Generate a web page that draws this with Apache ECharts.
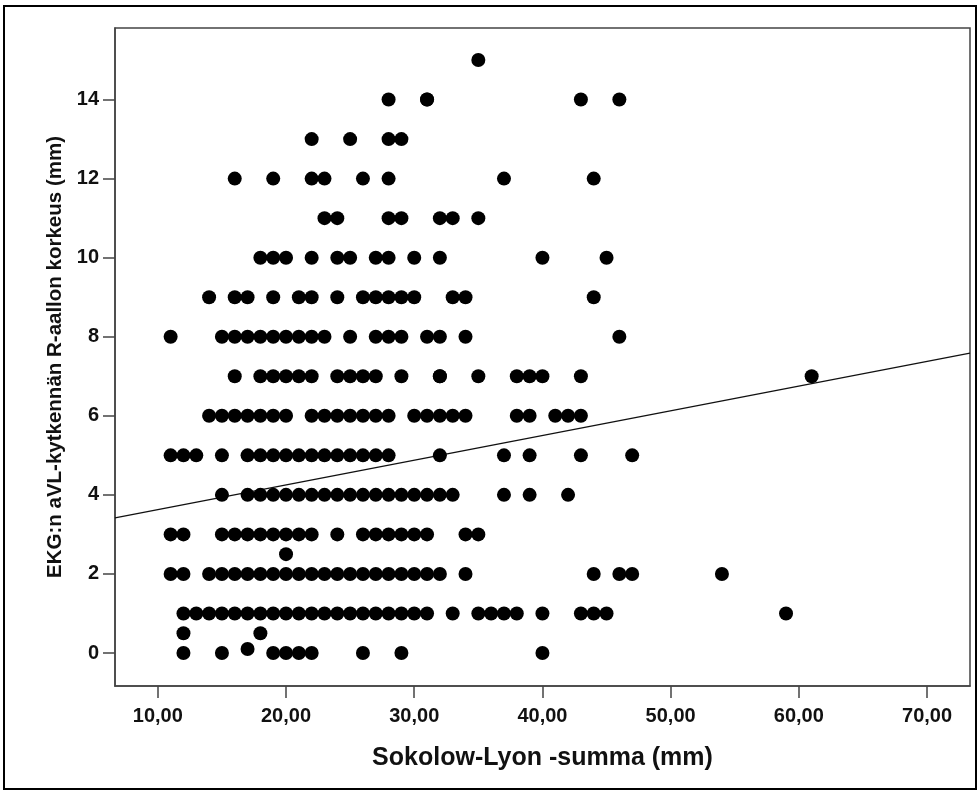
<!DOCTYPE html>
<html>
<head>
<meta charset="utf-8">
<title>Sokolow-Lyon vs R-aalto aVL</title>
<script src="https://cdn.jsdelivr.net/npm/echarts@6/dist/echarts.min.js"></script>
<style>
  html, body { margin: 0; padding: 0; background: #fff; }
  #chart { width: 980px; height: 796px; }
</style>
</head>
<body>
<div id="chart"></div>
<script>
// R-wave height levels in aVL (mm) and the Sokolow-Lyon sums (mm) observed at each level
const ravlLevels = [15, 14, 13, 12, 11, 10, 9, 8, 7, 6, 5, 4, 3, 2.5, 2, 1, 0.5, 0.1, 0];
const sokolowAtLevel = [
  [35],
  [28, 31, 31, 43, 46],
  [22, 25, 28, 29],
  [16, 19, 22, 23, 26, 28, 37, 44],
  [23, 24, 28, 29, 32, 33, 35],
  [18, 19, 20, 22, 24, 25, 27, 28, 30, 32, 40, 45],
  [14, 16, 17, 19, 21, 22, 24, 26, 27, 28, 29, 30, 33, 34, 44],
  [11, 15, 16, 17, 18, 19, 20, 21, 22, 23, 25, 27, 28, 29, 31, 32, 34, 46],
  [16, 18, 19, 20, 21, 22, 24, 25, 26, 27, 29, 32, 32, 35, 38, 39, 40, 43, 61],
  [14, 15, 16, 17, 18, 19, 20, 22, 23, 24, 25, 26, 27, 28, 30, 31, 32, 33, 34, 38, 39, 41, 42, 43],
  [11, 12, 13, 15, 17, 18, 19, 20, 21, 22, 23, 24, 25, 26, 27, 28, 32, 37, 39, 43, 47],
  [15, 17, 18, 19, 20, 21, 22, 23, 24, 25, 26, 27, 28, 29, 30, 31, 32, 33, 37, 39, 42],
  [11, 12, 15, 16, 17, 18, 19, 20, 21, 22, 24, 26, 27, 28, 29, 30, 31, 34, 35],
  [20],
  [11, 12, 14, 15, 16, 17, 18, 19, 20, 21, 22, 23, 24, 25, 26, 27, 28, 29, 30, 31, 32, 34, 44, 46, 47, 54],
  [12, 13, 14, 15, 16, 17, 18, 19, 20, 21, 22, 23, 24, 25, 26, 27, 28, 29, 30, 31, 33, 35, 36, 37, 38, 40, 43, 44, 45, 59],
  [12, 18],
  [17],
  [12, 15, 19, 20, 21, 22, 26, 29, 40]
];

// Linear fit line: y = fitIntercept + fitSlope * x
const fitIntercept = 3.0;
const fitSlope = 0.0625;

// Axis ranges and tick positions
const xRange = [6.66, 73.35];
const yRange = [-0.835, 15.81];
const xTicks = [10, 20, 30, 40, 50, 60, 70];
const yTicks = [0, 2, 4, 6, 8, 10, 12, 14];

const points = [];
ravlLevels.forEach(function (level, i) {
  sokolowAtLevel[i].forEach(function (x) { points.push([x, level]); });
});

const fitLine = [
  [xRange[0], fitIntercept + fitSlope * xRange[0]],
  [xRange[1], fitIntercept + fitSlope * xRange[1]]
];

const tickFont = {
  fontFamily: '"Liberation Sans", Arial, sans-serif',
  fontWeight: 'bold',
  fontSize: 20,
  color: '#111'
};
const xTitleFont = {
  fontFamily: '"Liberation Sans", Arial, sans-serif',
  fontWeight: 'bold',
  fontSize: 25,
  color: '#111'
};
const yTitleFont = {
  fontFamily: '"Liberation Sans", Arial, sans-serif',
  fontWeight: 'bold',
  fontSize: 20.5,
  color: '#111'
};
const axisLineStyle = { color: '#444', width: 1.5 };

const chart = echarts.init(document.getElementById('chart'), null, { renderer: 'canvas' });
chart.setOption({
  animation: false,
  backgroundColor: '#fff',
  graphic: [{
    type: 'rect',
    shape: { x: 4, y: 6, width: 972, height: 783 },
    style: { fill: 'none', stroke: '#000', lineWidth: 2 },
    silent: true
  }],
  grid: {
    left: 115, right: 10, top: 28, bottom: 110,
    show: true, borderColor: '#444', borderWidth: 1.5, backgroundColor: '#fff'
  },
  xAxis: {
    type: 'value',
    min: xRange[0], max: xRange[1],
    name: 'Sokolow-Lyon -summa (mm)',
    nameLocation: 'middle',
    nameGap: 60,
    nameTextStyle: xTitleFont,
    axisLine: { show: true, onZero: false, lineStyle: axisLineStyle },
    axisTick: { show: true, inside: false, length: 12, lineStyle: axisLineStyle, customValues: xTicks },
    axisLabel: Object.assign({
      margin: 20,
      customValues: xTicks,
      formatter: function (v) { return v.toFixed(2).replace('.', ','); }
    }, tickFont),
    splitLine: { show: false }
  },
  yAxis: {
    type: 'value',
    min: yRange[0], max: yRange[1],
    name: 'EKG:n aVL-kytkennän R-aallon korkeus (mm)',
    nameLocation: 'middle',
    nameGap: 48,
    nameRotate: 90,
    nameTextStyle: yTitleFont,
    axisLine: { show: true, onZero: false, lineStyle: axisLineStyle },
    axisTick: { show: true, inside: false, length: 12, lineStyle: axisLineStyle, customValues: yTicks },
    axisLabel: Object.assign({
      margin: 16,
      customValues: yTicks,
      formatter: function (v) { return String(v); }
    }, tickFont),
    splitLine: { show: false }
  },
  series: [
    {
      type: 'scatter',
      data: points,
      symbol: 'circle',
      symbolSize: 14,
      itemStyle: { color: '#000', opacity: 1 },
      silent: true,
      z: 3
    },
    {
      type: 'line',
      data: fitLine,
      symbol: 'none',
      lineStyle: { color: '#111', width: 1.3 },
      silent: true,
      z: 2
    }
  ]
});
</script>
</body>
</html>
